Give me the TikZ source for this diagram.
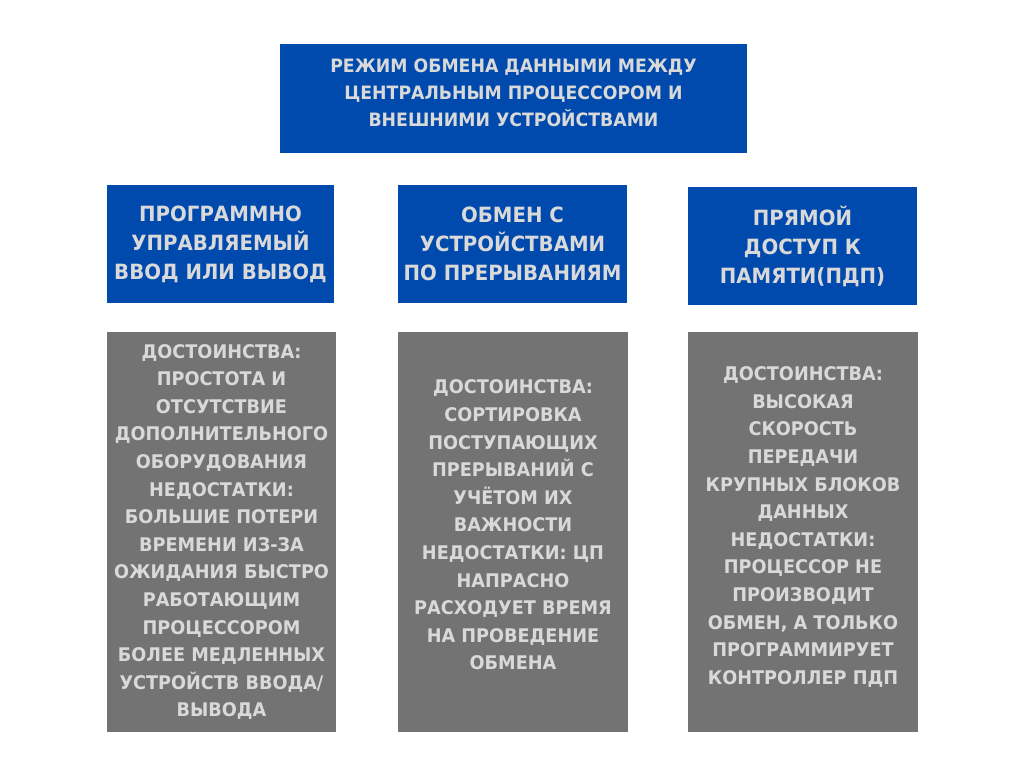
\documentclass[tikz,border=0pt]{standalone}
\usepackage{fontspec}
\setmainfont[FakeStretch=0.94]{DejaVu Sans}
\definecolor{bluebox}{HTML}{004AAD}
\definecolor{graybox}{HTML}{737373}
\definecolor{txt}{HTML}{D9D9D9}
\begin{document}
\begin{tikzpicture}[x=1pt,y=-1pt,
  base/.style={rectangle, inner sep=0pt, align=center, text=txt, font=\bfseries\fontsize{18.8}{27.6}\selectfont},
  headtext/.style={base, font=\bfseries\fontsize{18.4}{27}\selectfont},
  catbox/.style={base, fill=bluebox, font=\bfseries\fontsize{21}{29}\selectfont},
  infobox/.style={base, fill=graybox, minimum width=230pt, minimum height=400pt}]
\useasboundingbox[fill=white] (0,0) rectangle (1024,768);
\node[base, fill=bluebox, minimum width=467pt, minimum height=109pt] (top) at (513.5,98.5) {};
\node[headtext] (toptext) at ([yshift=6pt]top.center)
  {РЕЖИМ ОБМЕНА ДАННЫМИ МЕЖДУ\\ЦЕНТРАЛЬНЫМ ПРОЦЕССОРОМ И\\ВНЕШНИМИ УСТРОЙСТВАМИ};
\node[catbox, minimum width=227pt, minimum height=118pt] (c1) at (220.5,244)
  {ПРОГРАММНО\\УПРАВЛЯЕМЫЙ\\ВВОД ИЛИ ВЫВОД};
\node[catbox, minimum width=229pt, minimum height=118pt] (c2) at (512.5,244)
  {ОБМЕН С\\УСТРОЙСТВАМИ\\ПО ПРЕРЫВАНИЯМ};
\node[catbox, minimum width=229pt, minimum height=118pt] (c3) at (802.5,246)
  {ПРЯМОЙ\\ДОСТУП К\\ПАМЯТИ(ПДП)};
\node[infobox, minimum width=229pt] (g1) at (221.5,532) {};
\node[base] (t1) at (g1.center)
  {ДОСТОИНСТВА:\\ПРОСТОТА И\\ОТСУТСТВИЕ\\ДОПОЛНИТЕЛЬНОГО\\ОБОРУДОВАНИЯ\\НЕДОСТАТКИ:\\БОЛЬШИЕ ПОТЕРИ\\ВРЕМЕНИ ИЗ-ЗА\\ОЖИДАНИЯ БЫСТРО\\РАБОТАЮЩИМ\\ПРОЦЕССОРОМ\\БОЛЕЕ МЕДЛЕННЫХ\\УСТРОЙСТВ ВВОДА/\\ВЫВОДА};
\node[infobox] (g2) at (513,532) {};
\node[base] (t2) at ([yshift=7pt]g2.center)
  {ДОСТОИНСТВА:\\СОРТИРОВКА\\ПОСТУПАЮЩИХ\\ПРЕРЫВАНИЙ С\\УЧЁТОМ ИХ\\ВАЖНОСТИ\\НЕДОСТАТКИ: ЦП\\НАПРАСНО\\РАСХОДУЕТ ВРЕМЯ\\НА ПРОВЕДЕНИЕ\\ОБМЕНА};
\node[infobox] (g3) at (803,532) {};
\node[base] (t3) at ([yshift=5pt]g3.center)
  {ДОСТОИНСТВА:\\ВЫСОКАЯ\\СКОРОСТЬ\\ПЕРЕДАЧИ\\КРУПНЫХ БЛОКОВ\\ДАННЫХ\\НЕДОСТАТКИ:\\ПРОЦЕССОР НЕ\\ПРОИЗВОДИТ\\ОБМЕН, А ТОЛЬКО\\ПРОГРАММИРУЕТ\\КОНТРОЛЛЕР ПДП};
\end{tikzpicture}
\end{document}
